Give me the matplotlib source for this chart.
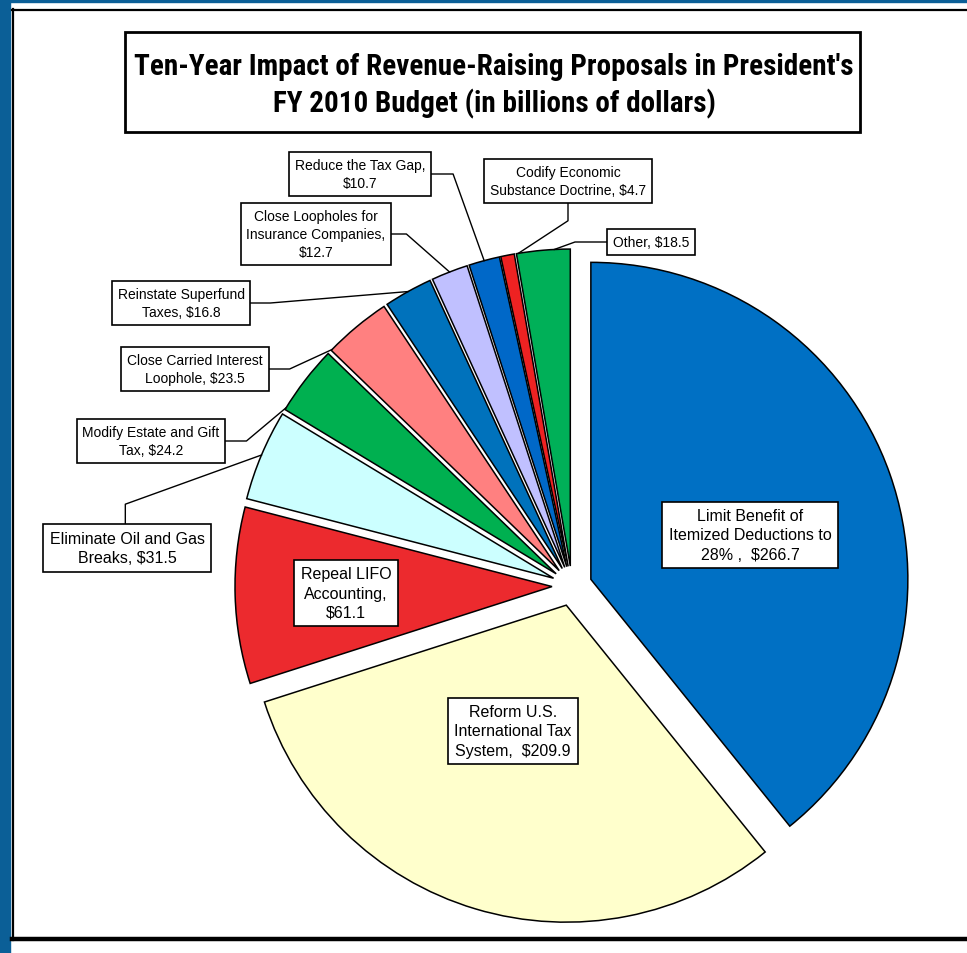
import matplotlib
matplotlib.use('Agg')
import matplotlib.pyplot as plt
import numpy as np
from matplotlib import font_manager
from matplotlib.patches import Rectangle

W, H = 967, 954

# ten-year revenue of each proposal, billions of dollars
names = ["Limit Benefit of\nItemized Deductions to\n28% ,  ",
         "Reform U.S.\nInternational Tax\nSystem,  ",
         "Repeal LIFO\nAccounting,\n",
         "Eliminate Oil and Gas\nBreaks, ",
         "Modify Estate and Gift\nTax, ",
         "Close Carried Interest\nLoophole, ",
         "Reinstate Superfund\nTaxes, ",
         "Close Loopholes for\nInsurance Companies,\n",
         "Reduce the Tax Gap,\n",
         "Codify Economic\nSubstance Doctrine, ",
         "Other, "]
values = [266.7, 209.9, 61.1, 31.5, 24.2, 23.5, 16.8, 12.7, 10.7, 4.7, 18.5]
colors = ['#0070c4', '#ffffcc', '#ec2a2e', '#ccffff', '#00b050', '#ff8080',
          '#0072bc', '#c0c0ff', '#0068c8', '#ee2222', '#00b058']

# label box centres (pixels from top-left), font size, leader (side, elbow length, angle nudge)
label_pos = [(750, 536), (513, 732), (346, 594), (127, 549), (151, 442), (195, 370),
             (181, 304), (316, 235), (360, 175), (568, 182), (651, 243)]
label_size = [11.5, 11.5, 11.5, 11.5, 10, 10, 10, 10, 10, 10, 10]
leaders = [None, None, None, ('top', 20, 0), ('right', 21, 6), ('right', 21, 6),
           ('right', 20, 0), ('right', 15, 0), ('right', 22, 0), ('bottom', 18, -2),
           ('left', 32, -2)]

# narrowest sans available for the title
installed = {f.name for f in font_manager.fontManager.ttflist}
narrow = [f for f in ['Liberation Sans Narrow', 'Roboto Condensed', 'Open Sans Condensed',
                      'Roboto', 'Liberation Sans'] if f in installed][:1] + ['DejaVu Sans']

fig = plt.figure(figsize=(W / 100, H / 100), dpi=100)
ax = fig.add_axes([0, 0, 1, 1])

wedges, _ = ax.pie(values, colors=colors, startangle=90, counterclock=False,
                   radius=317, center=(572, H - 587), explode=[20] * len(values),
                   wedgeprops=dict(edgecolor='black', linewidth=1.1), frame=True)
ax.set_xlim(0, W)
ax.set_ylim(0, H)
ax.axis('off')

# page frame
ax.add_patch(Rectangle((0, 0), 10, H, color='#0b5f97', zorder=0))
ax.add_patch(Rectangle((0, H - 3), W, 3, color='#0b5f97', zorder=0))
ax.plot([13, 13], [H - 941, H - 10], color='black', lw=1.6)
ax.plot([12, W], [H - 11, H - 11], color='black', lw=1.6)
ax.plot([12, W], [H - 940, H - 940], color='black', lw=3.2)

# title box
ax.add_patch(Rectangle((125, H - 133), 735, 100, fill=False, ec='black', lw=2.0))
t1 = ax.text(494, H - 67, "Ten-Year Impact of Revenue-Raising Proposals in President's",
             ha='center', va='center', fontsize=20, fontweight='bold', family=narrow)
t2 = ax.text(494, H - 104, "FY 2010 Budget (in billions of dollars)",
             ha='center', va='center', fontsize=20, fontweight='bold', family=narrow)
fig.canvas.draw()
fit = 716 / t1.get_window_extent().width
t1.set_fontsize(20 * fit)
t2.set_fontsize(20 * fit)

texts = []
for name, val, (px, py), fs in zip(names, values, label_pos, label_size):
    t = ax.text(px, H - py, name + "$%.1f" % val, ha='center', va='center',
                multialignment='center', fontsize=fs, linespacing=1.35,
                family=['Liberation Sans', 'DejaVu Sans'],
                bbox=dict(boxstyle='square,pad=0.42', fc='white', ec='black', lw=1.2),
                zorder=5)
    texts.append(t)

fig.canvas.draw()
inv = ax.transData.inverted()
for t, w, lead in zip(texts, wedges, leaders):
    if lead is None:
        continue
    side, elbow, nudge = lead
    bb = t.get_bbox_patch().get_window_extent()
    (x0, y0), (x1, y1) = inv.transform([[bb.x0, bb.y0], [bb.x1, bb.y1]])
    if side == 'right':
        p0 = (x1, (y0 + y1) / 2); p1 = (x1 + elbow, p0[1])
    elif side == 'left':
        p0 = (x0, (y0 + y1) / 2); p1 = (x0 - elbow, p0[1])
    elif side == 'top':
        p0 = (x0 + 0.49 * (x1 - x0), y1); p1 = (p0[0], y1 + elbow)
    else:
        p0 = ((x0 + x1) / 2, y0); p1 = (p0[0], y0 - elbow)
    ang = np.deg2rad((w.theta1 + w.theta2) / 2 + nudge)
    p2 = (w.center[0] + w.r * np.cos(ang), w.center[1] + w.r * np.sin(ang))
    ax.plot([p0[0], p1[0], p2[0]], [p0[1], p1[1], p2[1]], color='black', lw=1.0, zorder=4)

fig.savefig('out.png', dpi=100)
